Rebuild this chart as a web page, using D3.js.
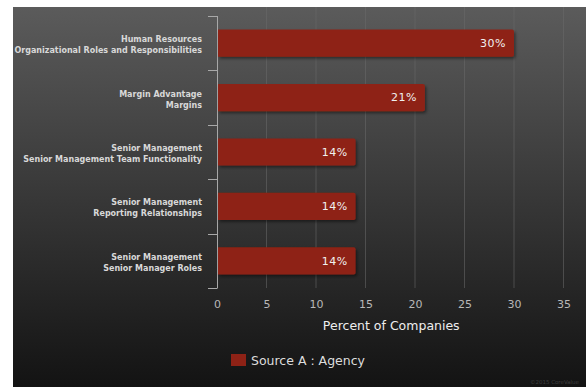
<!DOCTYPE html>
<html>
<head>
<meta charset="utf-8">
<script src="https://cdn.jsdelivr.net/npm/d3@7/dist/d3.min.js"></script>
<style>
  html, body { margin: 0; padding: 0; background: #ffffff; }
  svg { display: block; }
</style>
</head>
<body>
<svg id="chart" width="586" height="387"></svg>
<script>
// Chart data
const categoryTop = [
  "Human Resources",
  "Margin Advantage",
  "Senior Management",
  "Senior Management",
  "Senior Management"
];
const categoryBottom = [
  "Organizational Roles and Responsibilities",
  "Margins",
  "Senior Management Team Functionality",
  "Reporting Relationships",
  "Senior Manager Roles"
];
const values = [30, 21, 14, 14, 14];
const xTicks = [0, 5, 10, 15, 20, 25, 30, 35];
const seriesName = "Source A : Agency";
const xTitle = "Percent of Companies";

const svg = d3.select("#chart");
const W = 586, H = 387;

// Dark gradient panel
const defs = svg.append("defs");
const grad = defs.append("linearGradient").attr("id", "bg")
  .attr("x1", 0).attr("y1", 0).attr("x2", 0).attr("y2", 1);
grad.append("stop").attr("offset", "0%").attr("stop-color", "#5b5b5b");
grad.append("stop").attr("offset", "55%").attr("stop-color", "#343434");
grad.append("stop").attr("offset", "100%").attr("stop-color", "#131313");

const shadow = defs.append("filter").attr("id", "shadow")
  .attr("x", "-10%").attr("y", "-30%").attr("width", "130%").attr("height", "170%");
shadow.append("feDropShadow").attr("dx", 1.5).attr("dy", 2)
  .attr("stdDeviation", 1.5).attr("flood-color", "#000").attr("flood-opacity", 0.45);

svg.append("rect").attr("x", 13).attr("y", 7).attr("width", W - 13).attr("height", H - 7)
  .attr("fill", "url(#bg)");

const plot = { left: 217, right: 575, top: 16, bottom: 288 };

const x = d3.scaleLinear().domain([0, 36]).range([plot.left, plot.left + 36 * 9.9]);
const y = d3.scaleBand().domain(d3.range(values.length))
  .range([plot.top, plot.bottom]).paddingInner(0.5).paddingOuter(0.25);

// Vertical gridlines
svg.append("g").selectAll("line").data(xTicks.filter(d => d > 0)).join("line")
  .attr("x1", d => x(d)).attr("x2", d => x(d))
  .attr("y1", 7).attr("y2", plot.bottom)
  .attr("stroke", "#6a6a6a").attr("stroke-opacity", 0.55).attr("stroke-width", 1);

// X axis tick labels
const xAxis = d3.axisBottom(x).tickValues(xTicks).tickSize(0).tickPadding(0);
const gx = svg.append("g").attr("transform", `translate(0,${plot.bottom + 12})`).call(xAxis);
gx.select(".domain").remove();
gx.selectAll("text")
  .attr("dy", "0.71em")
  .attr("fill", "#b8b8b8")
  .style("font-family", "'DejaVu Sans', sans-serif")
  .style("font-size", "11px");

// Y axis line with category separators
const sep = [plot.top];
for (let i = 1; i < values.length; i++) {
  sep.push((y(i - 1) + y.bandwidth() + y(i)) / 2);
}
sep.push(plot.bottom);
const ax = svg.append("g");
ax.append("line").attr("x1", plot.left + 0.5).attr("x2", plot.left + 0.5)
  .attr("y1", plot.top).attr("y2", plot.bottom)
  .attr("stroke", "#a8a8a8").attr("stroke-width", 1);
ax.selectAll("line.sep").data(sep).join("line").attr("class", "sep")
  .attr("x1", plot.left - 9).attr("x2", plot.left + 0.5)
  .attr("y1", d => Math.round(d) + 0.5).attr("y2", d => Math.round(d) + 0.5)
  .attr("stroke", "#a8a8a8").attr("stroke-width", 1);

// Bars
const bars = svg.append("g");
bars.selectAll("path").data(values).join("path")
  .attr("d", (d, i) => {
    const x0 = x(0) + 1, x1 = x(d), y0 = y(i), h = y.bandwidth(), r = 2;
    return `M${x0},${y0} H${x1 - r} Q${x1},${y0} ${x1},${y0 + r} V${y0 + h - r} Q${x1},${y0 + h} ${x1 - r},${y0 + h} H${x0} Z`;
  })
  .attr("fill", "#8e2216")
  .attr("filter", "url(#shadow)");

// Value labels
svg.append("g").selectAll("text").data(values).join("text")
  .attr("x", d => x(d) - 8)
  .attr("y", (d, i) => y(i) + y.bandwidth() / 2)
  .attr("dy", "0.35em")
  .attr("text-anchor", "end")
  .attr("fill", "#f0f0f0")
  .style("font-family", "'DejaVu Sans', sans-serif")
  .style("font-size", "11px")
  .style("letter-spacing", "0.5px")
  .text(d => d + "%");

// Category labels
const cat = svg.append("g").selectAll("text").data(values).join("text")
  .attr("text-anchor", "end")
  .attr("fill", "#d8d8d8")
  .style("font-family", "'DejaVu Sans', sans-serif")
  .style("font-weight", "bold")
  .style("font-size", "8px");
cat.append("tspan")
  .attr("x", 202)
  .attr("y", (d, i) => y(i) + y.bandwidth() / 2 - 1)
  .text((d, i) => categoryTop[i]);
cat.append("tspan")
  .attr("x", 202)
  .attr("y", (d, i) => y(i) + y.bandwidth() / 2 + 10)
  .text((d, i) => categoryBottom[i]);

// Axis title
svg.append("text")
  .attr("x", (x(0) + x(35)) / 2 + 1)
  .attr("y", 330)
  .attr("text-anchor", "middle")
  .attr("fill", "#eeeeee")
  .style("font-family", "'DejaVu Sans', sans-serif")
  .style("font-size", "12.5px")
  .text(xTitle);

// Legend
const lg = svg.append("g").attr("transform", "translate(231,354)");
lg.append("rect").attr("width", 15).attr("height", 12).attr("fill", "#8e2216");
lg.append("text").attr("x", 20).attr("y", 11)
  .attr("fill", "#dddddd")
  .style("font-family", "'DejaVu Sans', sans-serif")
  .style("font-size", "12.5px")
  .text(seriesName);

// Credit
svg.append("text").attr("x", 579).attr("y", 384).attr("text-anchor", "end")
  .attr("fill", "#3e3e3e")
  .style("font-family", "'DejaVu Sans', sans-serif")
  .style("font-size", "5.5px")
  .text("©2015 CoreValue");
</script>
</body>
</html>
